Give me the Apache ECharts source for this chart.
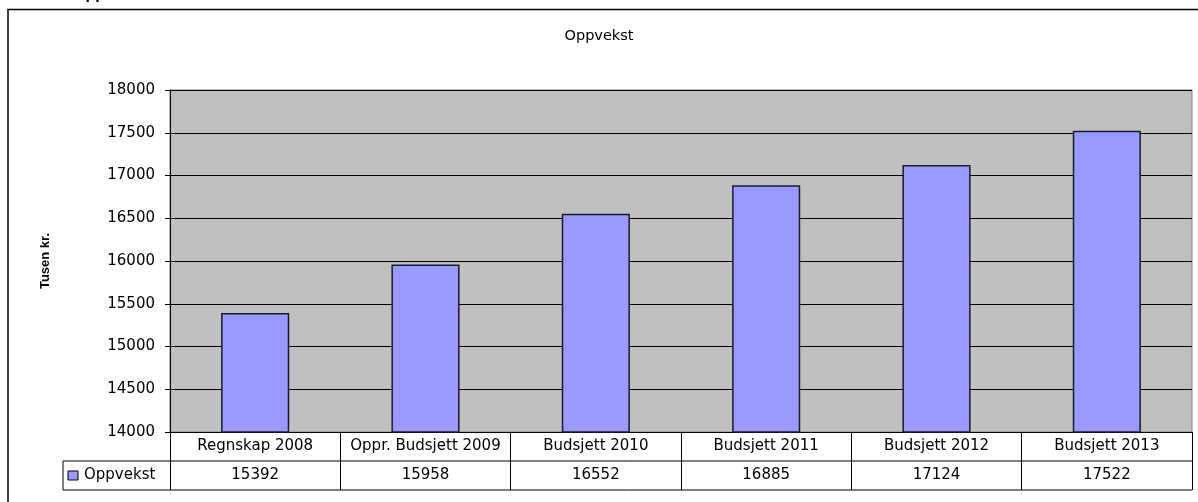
<!DOCTYPE html>
<html>
<head>
<meta charset="utf-8">
<script src="https://cdn.jsdelivr.net/npm/echarts@6/dist/echarts.min.js"></script>
<style>
html,body{margin:0;padding:0;background:#fff;}
#c{width:1198px;height:502px;}
</style>
</head>
<body>
<div id="c"></div>
<script>
const categories = ['Regnskap 2008', 'Oppr. Budsjett 2009', 'Budsjett 2010', 'Budsjett 2011', 'Budsjett 2012', 'Budsjett 2013'];
const seriesName = 'Oppvekst';
const values = [15392, 15958, 16552, 16885, 17124, 17522];
const yTicks = { min: 14000, max: 18000, interval: 500 };
const chartTitle = 'Oppvekst';
const topTitle = 'Oppvekst';
const yAxisName = 'Tusen kr.';

const FONT = '"DejaVu Sans", "Liberation Sans", Arial, sans-serif';
const chart = echarts.init(document.getElementById('c'), null, { renderer: 'canvas' });

const GRID = { left: 170, right: 6, top: 90, bottom: 70 };
const ROW = 29;

const option = {
  animation: false,
  backgroundColor: '#fff',
  textStyle: { fontFamily: FONT },
  title: {
    text: chartTitle, left: 'center', top: 24,
    textStyle: { fontFamily: FONT, fontSize: 14.5, fontWeight: 'normal', color: '#000' }
  },
  grid: Object.assign({ backgroundColor: '#c0c0c0', show: true, borderColor: '#808080', borderWidth: 1 }, GRID),
  xAxis: [{
    type: 'category', data: categories, position: 'bottom',
    axisLine: { show: true, lineStyle: { color: '#000', width: 1 } },
    axisTick: { show: true, length: ROW * 2, lineStyle: { color: '#000', width: 1 } },
    axisLabel: { margin: 7, fontSize: 15, color: '#000', fontFamily: FONT, interval: 0 }
  }, {
    type: 'category', data: values.map(v => String(v)), position: 'bottom', offset: ROW,
    axisLine: { show: false }, axisTick: { show: false },
    axisLabel: { margin: 7, fontSize: 15, color: '#000', fontFamily: FONT, interval: 0 }
  }],
  yAxis: {
    type: 'value', min: yTicks.min, max: yTicks.max, interval: yTicks.interval,
    name: yAxisName, nameLocation: 'middle', nameGap: 118, nameRotate: 90,
    nameTextStyle: { fontFamily: '"Liberation Sans", Arial, sans-serif', fontSize: 13, fontWeight: 'bold', color: '#000' },
    axisLine: { show: true, lineStyle: { color: '#000', width: 1 } },
    axisTick: { show: true, length: 5, lineStyle: { color: '#000' } },
    axisLabel: { fontSize: 15, color: '#000', margin: 15, fontFamily: FONT, formatter: v => String(v) },
    splitLine: { show: true, lineStyle: { color: '#000', width: 1 } }
  },
  series: [{
    name: seriesName, type: 'bar', data: values, barCategoryGap: '60%',
    itemStyle: { color: '#9999ff', borderColor: '#1a1a2e', borderWidth: 1.5 }
  }]
};
chart.setOption(option);

const rect = chart.getModel().getComponent('grid').coordinateSystem.getRect();
const x0 = rect.x, x1 = rect.x + rect.width, yb = rect.y + rect.height;
const keyLeft = 63;
chart.setOption({
  graphic: [
    { type: 'rect', shape: { x: 8, y: 9.5, width: 1200, height: 500 }, style: { fill: null, stroke: '#000', lineWidth: 1.5 }, silent: true },
    { type: 'text', left: 73, top: -13, style: { text: topTitle, font: 'bold 16px "Liberation Sans", Arial, sans-serif', fill: '#000' } },
    { type: 'line', shape: { x1: keyLeft, y1: yb + ROW, x2: x1, y2: yb + ROW }, style: { stroke: '#000', lineWidth: 1 } },
    { type: 'line', shape: { x1: keyLeft, y1: yb + ROW * 2, x2: x1, y2: yb + ROW * 2 }, style: { stroke: '#000', lineWidth: 1 } },
    { type: 'line', shape: { x1: keyLeft, y1: yb + ROW, x2: keyLeft, y2: yb + ROW * 2 }, style: { stroke: '#000', lineWidth: 1 } },
    { type: 'rect', shape: { x: keyLeft + 5, y: yb + ROW + 10, width: 10, height: 9 }, style: { fill: '#9999ff', stroke: '#000', lineWidth: 1 } },
    { type: 'text', x: keyLeft + 21, y: yb + ROW + 14.5, style: { text: seriesName, font: '15px ' + FONT, fill: '#000', textVerticalAlign: 'middle' } }
  ]
});
</script>
</body>
</html>
